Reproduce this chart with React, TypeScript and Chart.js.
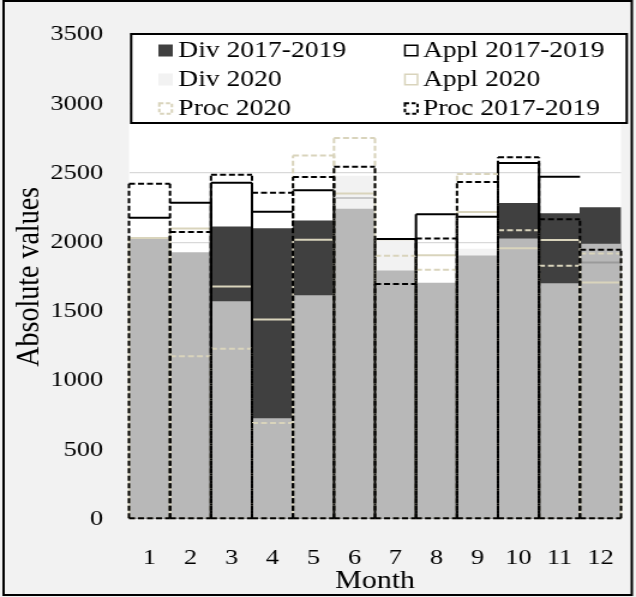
import React, { useEffect, useRef } from "react";
import { Chart, registerables } from "chart.js";

Chart.register(...registerables);

// ---------- data ----------
const months = ["1", "2", "3", "4", "5", "6", "7", "8", "9", "10", "11", "12"];
const yTickStep = 500;
const yMax = 3500;
const xTitle = "Month";
const yTitle = "Absolute values";

const proc1719 = [2423, 2075, 2488, 2358, 2471, 2545, 1698, 2027, 2435, 2615, 2166, 1945];
const proc2020 = [2030, 1177, 1230, 694, 2627, 2754, 1902, 1801, 2494, 2087, 1830, 1919];
const appl1719 = [2178, 2285, 2430, 2221, 2375, 2320, 2024, 2202, 2185, 2572, 2473, 1854];
const appl2020 = [2030, 2100, 1681, 1441, 2019, 2353, 2022, 1907, 2219, 1957, 2017, 1710];
const baseGray = [2022, 1926, 1571, 725, 1614, 2240, 1794, 1705, 1902, 2024, 1702, 1986];
const div1719 = [1900, 1850, 2111, 2099, 2154, 2150, 1650, 1600, 1800, 2282, 2207, 2250];
const div2020 = [2000, 1900, 1500, 700, 1600, 2478, 2022, 1700, 1950, 2000, 1700, 1950];

// ---------- styles ----------
const FONT = "'Liberation Serif', 'Times New Roman', Times, serif";
const BEIGE = "#d9d4bc";
const DARK = "#404040";
const LIGHT = "#f2f2f2";
const GRAY = "#b8b8b8";
const W = 530; // drawing width; shown stretched to 636 px
const H = 597;
const applSideL = [false, false, true, true, false, false, true, true, true, true, true, false];
const applSideR = [false, true, true, false, true, false, true, true, true, true, false, false];
const applColor = ["#000", "#000", "#000", "#000", "#000", "#c9c9c9", "#000", "#000", "#000", "#000", "#000", "#9a9a9a"];

const legendItems = [
  { label: "Div 2017-2019", col: 0, row: 0, kind: "fill", color: DARK },
  { label: "Appl 2017-2019", col: 1, row: 0, kind: "box", color: "#000" },
  { label: "Div 2020", col: 0, row: 1, kind: "fill", color: LIGHT },
  { label: "Appl 2020", col: 1, row: 1, kind: "box", color: BEIGE },
  { label: "Proc 2020", col: 0, row: 2, kind: "dash", color: BEIGE },
  { label: "Proc 2017-2019", col: 1, row: 2, kind: "dash", color: "#000" },
];

const bgPlugin = {
  id: "bgPlugin",
  beforeDraw(chart: any) {
    const { ctx, chartArea: a } = chart;
    ctx.save();
    ctx.fillStyle = "#f2f2f2";
    ctx.fillRect(0, 0, chart.width, chart.height);
    ctx.fillStyle = "#ffffff";
    ctx.fillRect(a.left, a.top, a.right - a.left, a.bottom - a.top);
    ctx.restore();
  },
};

// outlines of the bars (solid or dashed), drawn right after their dataset
const outlinePlugin = {
  id: "outlines",
  afterDatasetDraw(chart: any, args: any) {
    const ds: any = chart.data.datasets[args.index];
    const o = ds.outline;
    if (!o) return;
    const ctx = chart.ctx;
    ctx.save();
    ctx.setLineDash(o.dash || []);
    const seg = (x1: number, y1: number, x2: number, y2: number, w: number) => {
      ctx.lineWidth = w;
      ctx.beginPath();
      ctx.moveTo(x1, y1);
      ctx.lineTo(x2, y2);
      ctx.stroke();
    };
    args.meta.data.forEach((el: any, i: number) => {
      const { x, y, base, width } = el.getProps(["x", "y", "base", "width"], true);
      const l = x - width / 2;
      const r = x + width / 2;
      ctx.strokeStyle = Array.isArray(o.color) ? o.color[i] : o.color;
      if (!o.sideL || o.sideL[i]) seg(l, base, l, y, o.side);
      if (!o.sideR || o.sideR[i]) seg(r, base, r, y, o.side);
      seg(l, y, r, y, o.top);
      if (o.bottom) seg(l, base, r, base, o.top);
    });
    ctx.restore();
  },
};

const decorPlugin = {
  id: "decor",
  afterDraw(chart: any) {
    const ctx = chart.ctx;
    const a = chart.chartArea;
    ctx.save();
    ctx.fillStyle = "#000";
    // y axis title
    ctx.save();
    ctx.translate(25, (a.top + a.bottom) / 2);
    ctx.rotate(-Math.PI / 2);
    ctx.font = `28px ${FONT}`;
    ctx.textAlign = "center";
    ctx.textBaseline = "middle";
    ctx.fillText(yTitle, 0, 0);
    ctx.restore();
    // x axis title
    ctx.font = `25px ${FONT}`;
    ctx.textAlign = "center";
    ctx.textBaseline = "middle";
    ctx.fillText(xTitle, (a.left + a.right) / 2, 581);

    // legend box
    const bx = 109.3, by = 34, bw = 413, bh = 89;
    ctx.fillStyle = "#ffffff";
    ctx.fillRect(bx, by, bw, bh);
    ctx.strokeStyle = "#000";
    ctx.lineWidth = 2;
    ctx.strokeRect(bx, by, bw, bh);
    const colSq = [132, 336.7];
    const colTx = [148.6, 352.4];
    const rowBase = [56.5, 85.5, 114.5];
    ctx.font = `23px ${FONT}`;
    ctx.textBaseline = "alphabetic";
    ctx.textAlign = "left";
    legendItems.forEach((it) => {
      const sx = colSq[it.col];
      const sy = rowBase[it.row] - 12;
      if (it.kind === "fill") {
        ctx.fillStyle = it.color;
        ctx.fillRect(sx, sy, 12, 12);
      } else {
        ctx.fillStyle = "#fff";
        ctx.fillRect(sx, sy, 12, 12);
        ctx.strokeStyle = it.color;
        ctx.lineWidth = it.kind === "dash" ? 2 : 1.5;
        ctx.setLineDash(it.kind === "dash" ? [3.5, 2] : []);
        ctx.strokeRect(sx + 0.75, sy + 0.75, 10.5, 10.5);
        ctx.setLineDash([]);
      }
      ctx.fillStyle = "#000";
      ctx.fillText(it.label, colTx[it.col], rowBase[it.row]);
    });
    // outer frame of the figure
    ctx.strokeStyle = "#000";
    ctx.lineWidth = 2;
    ctx.strokeRect(3, 1, 523.5, 594);
    ctx.restore();
  },
};

export default function App() {
  const ref = useRef<HTMLCanvasElement>(null);

  useEffect(() => {
    document.body.style.margin = "0";
    const canvas = ref.current;
    if (!canvas) return;
    const clear = "rgba(0,0,0,0)";
    const chart = new Chart(canvas, {
      type: "bar",
      data: {
        labels: months,
        datasets: [
          { label: "Proc 2017-2019", data: proc1719, backgroundColor: clear, borderWidth: 0, outline: { color: "#000", top: 2, side: 2, dash: [5, 2.5], bottom: true } } as any,
          { label: "Proc 2020", data: proc2020, backgroundColor: clear, borderWidth: 0, outline: { color: BEIGE, top: 2, side: 2, dash: [5, 2.5], bottom: true } } as any,
          { label: "Appl 2017-2019", data: appl1719, backgroundColor: clear, borderWidth: 0, outline: { color: applColor, top: 2, side: 2, sideL: applSideL, sideR: applSideR } } as any,
          { label: "Appl 2020", data: appl2020, backgroundColor: clear, borderWidth: 0, outline: { color: BEIGE, top: 2, side: 1.5 } } as any,
          { label: "Base", data: baseGray, backgroundColor: GRAY, borderWidth: 0 },
          { label: "Div 2017-2019", data: div1719, backgroundColor: DARK, borderWidth: 0 },
          { label: "Div 2020", data: div2020, backgroundColor: LIGHT, borderWidth: 0 },
        ],
      },
      options: {
        animation: false,
        responsive: false,
        datasets: { bar: { barPercentage: 1, categoryPercentage: 1, grouped: false } as any },
        layout: { padding: { left: 0, right: 12.5, top: 33, bottom: 0 } },
        plugins: { legend: { display: false }, tooltip: { enabled: false } },
        scales: {
          x: {
            grid: { display: false },
            border: { display: false },
            ticks: { color: "#000", font: { family: FONT, size: 22 }, padding: 18, autoSkip: false, maxRotation: 0 },
            title: { display: false, text: xTitle },
            afterFit: (s: any) => { s.height = 78; },
          },
          y: {
            min: 0,
            max: yMax,
            ticks: { stepSize: yTickStep, color: "#000", font: { family: FONT, size: 22 }, padding: 21.5, callback: (v: any) => String(v) },
            grid: { color: "#d9d9d9", lineWidth: 1.3, drawTicks: false },
            border: { display: false },
            title: { display: false, text: yTitle },
            afterFit: (s: any) => { s.width = 107.5; },
          },
        },
      } as any,
      plugins: [bgPlugin, outlinePlugin, decorPlugin],
    });
    return () => chart.destroy();
  }, []);

  return (
    <div style={{ width: 636, height: 597, overflow: "hidden" }}>
      <canvas ref={ref} width={W} height={H} style={{ display: "block", width: "636px", height: "597px" }} />
    </div>
  );
}
